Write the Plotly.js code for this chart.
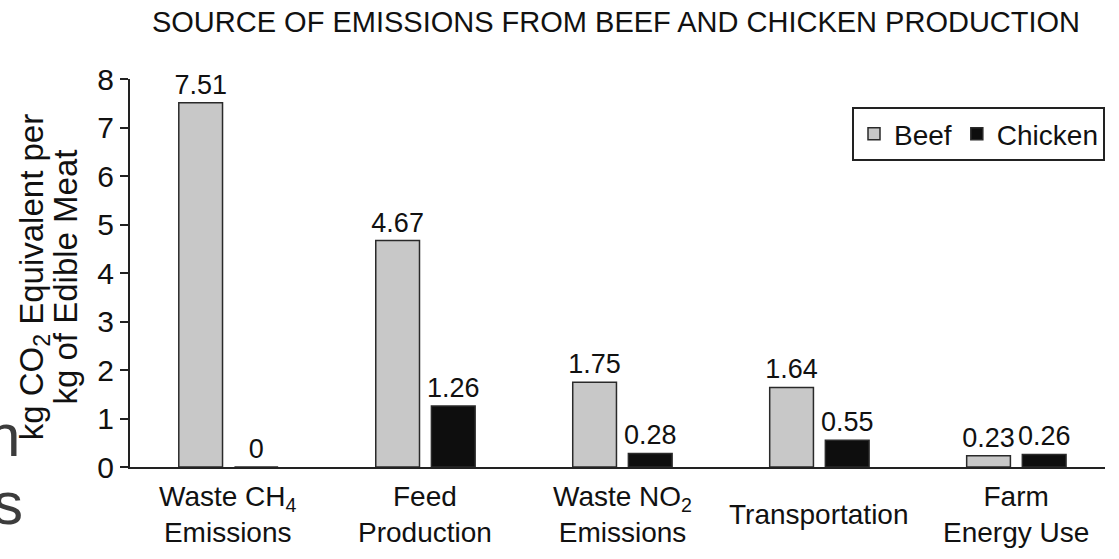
<!DOCTYPE html>
<html>
<head>
<meta charset="utf-8">
<script src="https://cdn.plot.ly/plotly-3.0.1.min.js"></script>
<style>
  html, body { margin: 0; padding: 0; background: #ffffff; }
  #chart { width: 1119px; height: 559px; }
</style>
</head>
<body>
<div id="chart"></div>
<script>
// Emission sources (category axis)
const categories = [
  'Waste CH<sub>4</sub><br>Emissions',
  'Feed<br>Production',
  'Waste NO<sub>2</sub><br>Emissions',
  'Transportation',
  'Farm<br>Energy Use'
];

// kg CO2 equivalent per kg of edible meat
const beefValues = [7.51, 4.67, 1.75, 1.64, 0.23];
const chickenValues = [0, 1.26, 0.28, 0.55, 0.26];

const seriesNames = ['Beef', 'Chicken'];
const yTickValues = [0, 1, 2, 3, 4, 5, 6, 7, 8];

const chartTitle = 'SOURCE OF EMISSIONS FROM BEEF AND CHICKEN PRODUCTION';
const yTitleLines = ['kg CO<sub>2</sub> Equivalent per', 'kg of Edible Meat'];
const marginLetters = ['n', 's'];

const FONT = 'Liberation Sans, Arial, Helvetica, sans-serif';
const INK = '#111111';

const barStyle = (fill) => ({
  color: fill,
  line: { color: '#2a2a2a', width: 1.5 }
});

const traces = [
  {
    type: 'bar',
    name: seriesNames[0],
    x: categories,
    y: beefValues,
    marker: barStyle('#c8c8c8'),
    texttemplate: '%{y}',
    textposition: 'outside',
    constraintext: 'none',
    cliponaxis: false,
    textfont: { family: FONT, size: 27, color: INK },
    hoverinfo: 'skip'
  },
  {
    type: 'bar',
    name: seriesNames[1],
    x: categories,
    y: chickenValues,
    marker: barStyle('#0e0e0e'),
    texttemplate: '%{y}',
    textposition: 'outside',
    constraintext: 'none',
    cliponaxis: false,
    textfont: { family: FONT, size: 27, color: INK },
    hoverinfo: 'skip'
  }
];

// Category labels, centred vertically under each group
const categoryLabels = categories.map((c, i) => ({
  xref: 'x', yref: 'paper',
  x: i, y: -0.123,
  xanchor: 'center', yanchor: 'middle',
  text: c, showarrow: false,
  font: { family: FONT, size: 28, color: INK }
}));

// Two-line rotated y-axis title
const yTitle = yTitleLines.map((t, i) => ({
  xref: 'paper', yref: 'paper',
  x: i === 0 ? -0.099 : -0.066, y: 0.49,
  xanchor: 'center', yanchor: 'middle',
  textangle: -90,
  text: t, showarrow: false,
  font: { family: FONT, size: 33, color: INK }
}));

// Large letters cut off by the left edge
const edgeText = marginLetters.map((t, i) => ({
  xref: 'paper', yref: 'paper',
  x: i === 0 ? -0.149 : -0.143,
  y: i === 0 ? 0.082 : -0.094,
  xanchor: 'left', yanchor: 'middle',
  text: t, showarrow: false,
  font: { family: FONT, size: 60, color: '#3c3c3c' }
}));

const layout = {
  width: 1119,
  height: 559,
  margin: { l: 130, r: 14, t: 79, b: 92 },
  paper_bgcolor: '#ffffff',
  plot_bgcolor: '#ffffff',
  font: { family: FONT, color: INK },
  title: {
    text: chartTitle,
    font: { family: FONT, size: 29, color: INK },
    xref: 'container', yref: 'container',
    x: 0.5505, xanchor: 'center',
    y: 0.9615, yanchor: 'middle'
  },
  barmode: 'group',
  bargap: 0.435,
  bargroupgap: 0.214,
  showlegend: true,
  legend: {
    orientation: 'h',
    x: 1, xanchor: 'right',
    y: 0.928, yanchor: 'top',
    bgcolor: '#ffffff',
    bordercolor: '#222222',
    borderwidth: 2,
    font: { family: FONT, size: 28, color: INK },
    traceorder: 'normal'
  },
  xaxis: {
    type: 'category',
    range: [-0.5, 4.45],
    showline: true,
    linecolor: '#222222',
    linewidth: 2,
    ticks: '',
    showticklabels: false,
    showgrid: false,
    zeroline: false,
    fixedrange: true
  },
  yaxis: {
    range: [0, 8],
    tickvals: yTickValues,
    ticktext: yTickValues.map(String),
    ticks: 'outside',
    ticklen: 8,
    tickwidth: 2,
    tickcolor: '#222222',
    showline: true,
    linecolor: '#222222',
    linewidth: 2,
    showgrid: false,
    zeroline: false,
    tickfont: { family: FONT, size: 30, color: INK },
    fixedrange: true
  },
  // mirror axis that supplies the inner half of each crossing tick
  yaxis2: {
    overlaying: 'y',
    anchor: 'x',
    side: 'left',
    range: [0, 8],
    tickvals: yTickValues,
    ticks: 'inside',
    ticklen: 8,
    tickwidth: 2,
    tickcolor: '#222222',
    showticklabels: false,
    showline: false,
    showgrid: false,
    zeroline: false,
    fixedrange: true
  },
  annotations: [...categoryLabels, ...yTitle, ...edgeText]
};

Plotly.newPlot('chart', traces, layout, { displayModeBar: false, staticPlot: true });
</script>
</body>
</html>
